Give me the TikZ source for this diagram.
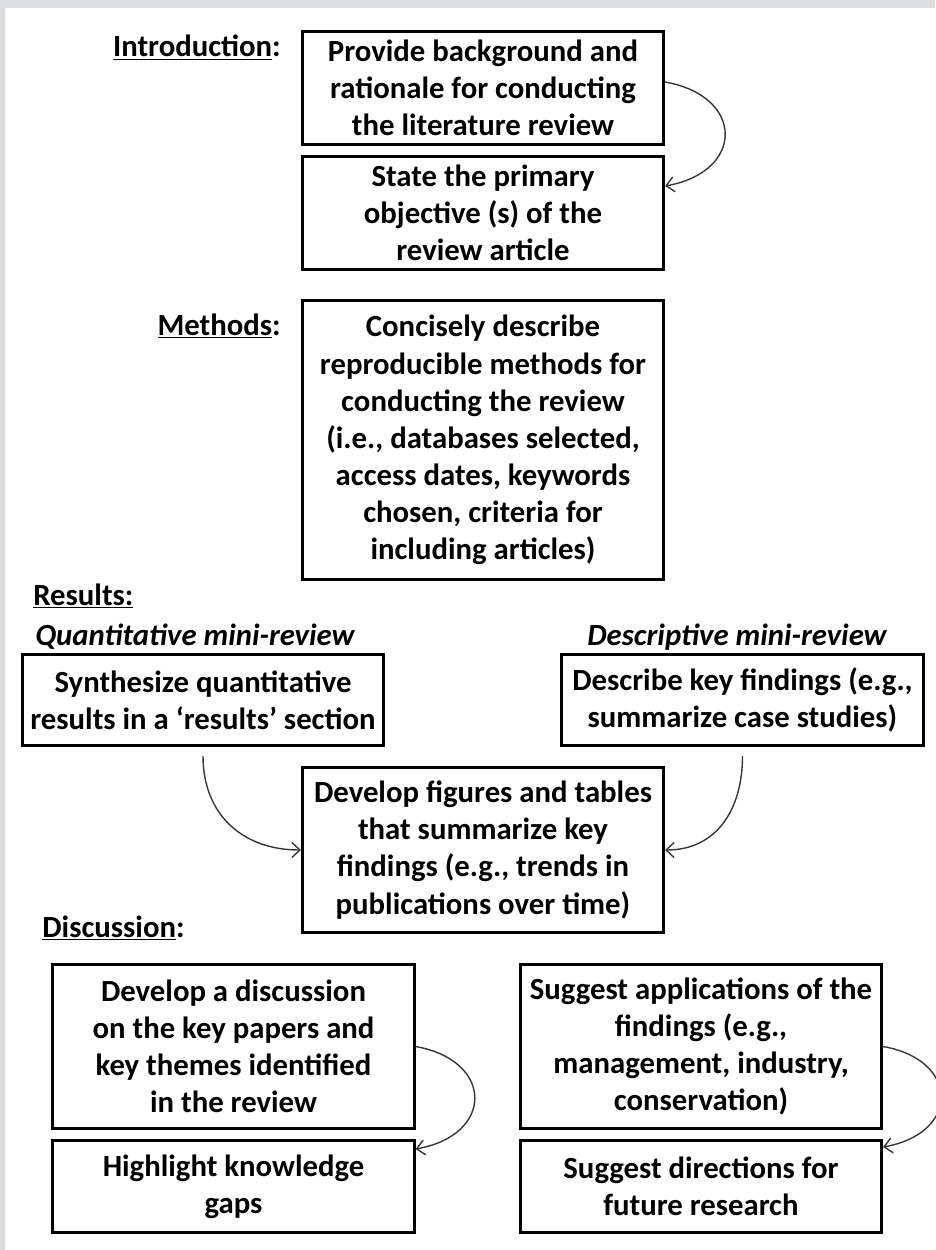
\documentclass[tikz,border=0pt]{standalone}
\usepackage{fontspec}
\setmainfont{Carlito}
\usetikzlibrary{arrows.meta}
\definecolor{framegrey}{RGB}{220,221,223}
\definecolor{linkgrey}{RGB}{55,55,55}

\begin{document}
\begin{tikzpicture}[
  x=1cm, y=1cm,
  box/.style={draw=black, line width=1.5pt, align=center, inner sep=0pt,
              minimum width=7.23cm,
              font=\fontsize{17.5}{21.1}\selectfont\bfseries},
  head/.style={font=\fontsize{17.5}{21.1}\selectfont\bfseries, inner sep=0pt},
  sub/.style={font=\fontsize{17.5}{21.1}\selectfont\bfseries\itshape,
              anchor=base west, inner sep=0pt},
  link/.style={line width=0.8pt, linkgrey,
               -{Straight Barb[length=1.6mm,width=3mm]}}]

\useasboundingbox (0,0) rectangle (18.70,-25.00);
\fill[white] (0,0) rectangle (18.70,-25.00);
\fill[framegrey] (0,0) rectangle (18.70,-0.16);
\fill[framegrey] (0,0) rectangle (0.10,-25.00);

% ============================ introduction ==============================
\node[head, anchor=base east] (introlab) at (5.62,-1.14) {\underline{Introduction}:};
\node[box, minimum height=2.27cm] (intro1) at (9.66,-1.76)
  {Provide background and\\rationale for conducting\\the literature review};
\node[box, minimum height=2.27cm] (intro2) at (9.66,-4.26)
  {State the primary\\objective (s) of the\\review article};
\draw[link] ([yshift=1.2mm]intro1.east) to[out=-10, in=10, looseness=2]
  ([yshift=5.4mm]intro2.east);

% ============================== methods =================================
\node[head, anchor=base east] (methlab) at (5.62,-6.70) {\underline{Methods}:};
\node[box, minimum height=5.59cm] (meth) at (9.66,-8.80)
  {Concisely describe\\reproducible methods for\\conducting the review\\
   (i.e., databases selected,\\access dates, keywords\\chosen, criteria for\\
   including articles)};

% ============================== results =================================
\node[head, anchor=base west] (reslab) at (0.66,-12.10) {\underline{Results:}};
\node[sub] (quantlab) at (0.70,-12.90) {Quantitative mini-review};
\node[sub] (descrlab) at (11.74,-12.90) {Descriptive mini-review};
\node[box, minimum height=1.83cm] (quant) at (4.06,-14.00)
  {Synthesize quantitative\\results in a ‘results’ section};
\node[box, minimum height=1.83cm] (descr) at (14.85,-14.00)
  {Describe key findings (e.g.,\\summarize case studies)};
\node[box, minimum height=3.31cm] (figs) at (9.66,-17.00)
  {Develop figures and tables\\that summarize key\\findings (e.g., trends in\\
   publications over time)};
\draw[link] ([yshift=-1.8mm]quant.south) to[out=-90, in=180, looseness=1.1]
  (figs.west);
\draw[link] ([yshift=-1.8mm]descr.south) to[out=-90, in=0, looseness=1.1]
  (figs.east);

% ============================= discussion ===============================
\node[head, anchor=base west] (disclab) at (0.84,-18.74) {\underline{Discussion}:};
\node[box, minimum height=3.29cm] (disc) at (4.67,-20.93)
  {Develop a discussion\\on the key papers and\\key themes identified\\in the review};
\node[box, minimum height=1.85cm] (gaps) at (4.67,-23.73)
  {Highlight knowledge\\gaps};
\node[box, minimum height=3.29cm] (appl) at (14.02,-20.93)
  {Suggest applications of the\\findings (e.g.,\\management, industry,\\conservation)};
\node[box, minimum height=1.85cm] (future) at (14.02,-23.73)
  {Suggest directions for\\future research};
\draw[link] (disc.east) to[out=-10, in=10, looseness=2]
  ([yshift=7.5mm]gaps.east);
\draw[link] (appl.east) to[out=-10, in=10, looseness=2]
  ([yshift=7.9mm]future.east);

\end{tikzpicture}
\end{document}
